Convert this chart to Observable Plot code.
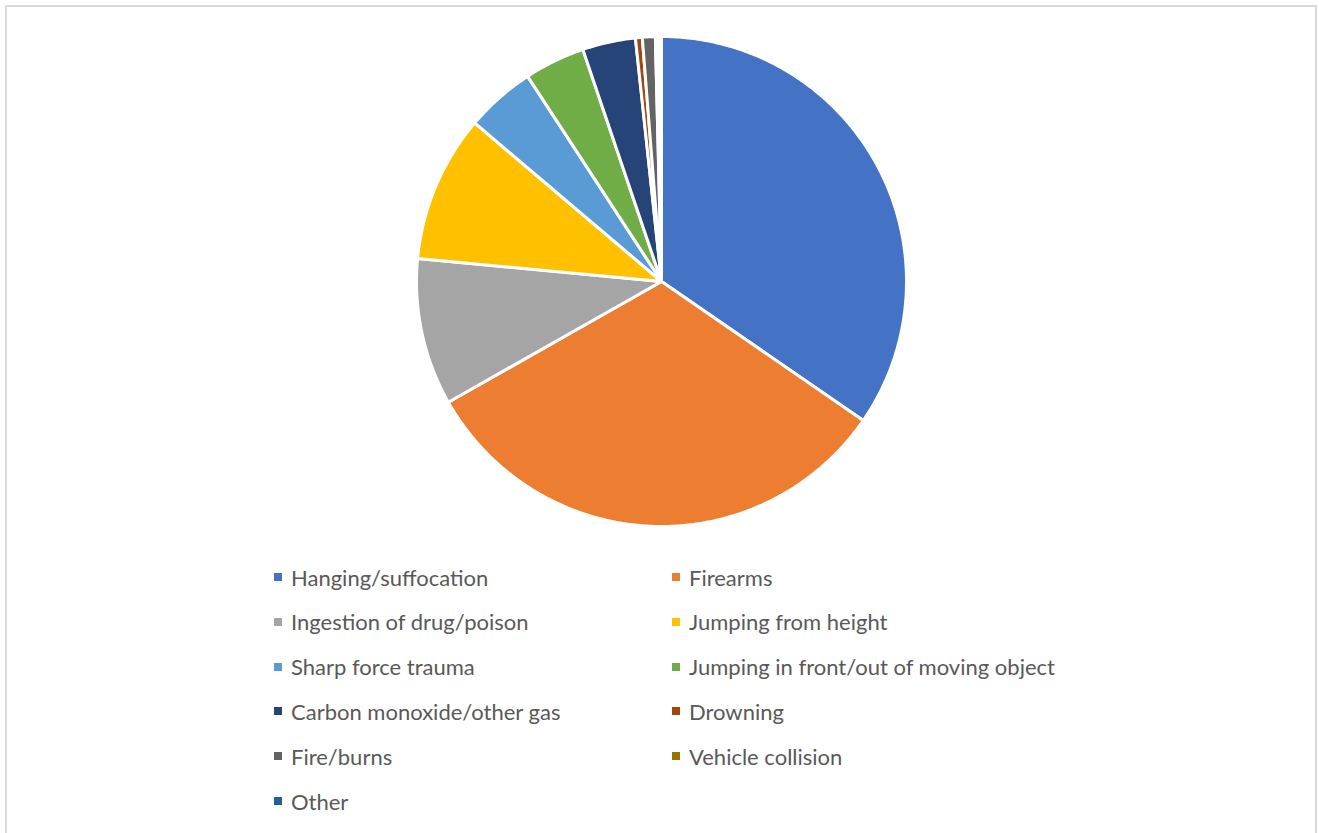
<!DOCTYPE html>
<html><head><meta charset="utf-8">
<script src="https://cdn.jsdelivr.net/npm/d3@7"></script>
<script src="https://cdn.jsdelivr.net/npm/@observablehq/plot@0.6"></script>
<style>
body{margin:0;background:#fff;}
#wrap{position:relative;width:1319px;height:833px;overflow:hidden;font-family:Lato,"Open Sans",sans-serif;}
#border{position:absolute;left:5px;top:5px;width:1312px;height:900px;border:2px solid #d9d9d9;box-sizing:border-box;}
#chart{position:absolute;left:0;top:0;}
.item{position:absolute;height:26px;display:flex;align-items:center;font-size:22px;color:#595959;white-space:nowrap;}
.sw{width:8px;height:8px;margin-right:9px;flex:none;}
</style></head>
<body><div id="wrap"><div id="border"></div><div id="chart"></div></div>
<script>
const categories = ["Hanging/suffocation","Firearms","Ingestion of drug/poison","Jumping from height","Sharp force trauma","Jumping in front/out of moving object","Carbon monoxide/other gas","Drowning","Fire/burns","Vehicle collision","Other"];
const values = [34.6, 32.2, 9.7, 9.7, 4.6, 4.0, 3.5, 0.45, 0.85, 0.2, 0.2];
const colors = ["#4472C4","#ED7D31","#A5A5A5","#FFC000","#5B9BD5","#70AD47","#264478","#9E480E","#636363","#997300","#255E91"];

const arcs = d3.pie().sort(null).value(d => d)(values);
const pts = [];
arcs.forEach((a, i) => {
  const cat = categories[i];
  pts.push({cat, x: 0, y: 0});
  const n = Math.max(2, Math.ceil((a.endAngle - a.startAngle) / 0.01));
  for (let k = 0; k <= n; k++) {
    const t = a.startAngle + (a.endAngle - a.startAngle) * k / n;
    pts.push({cat, x: Math.sin(t), y: Math.cos(t)});
  }
});

const plot = Plot.plot({
  width: 1319, height: 545,
  marginLeft: 416, marginRight: 413, marginTop: 36, marginBottom: 19,
  x: {domain: [-1, 1], axis: null},
  y: {domain: [-1, 1], axis: null},
  color: {domain: categories, range: colors},
  marks: [
    Plot.line(pts, {x: "x", y: "y", z: "cat", fill: "cat", stroke: "white", strokeWidth: 3, strokeLinejoin: "round", curve: "linear-closed"})
  ]
});
document.getElementById("chart").appendChild(plot);

const wrap = document.getElementById("wrap");
categories.forEach((c, i) => {
  const row = Math.floor(i / 2), col = i % 2;
  const d = document.createElement("div");
  d.className = "item";
  d.style.left = (col ? 672 : 274) + "px";
  d.style.top = (578 - 14 + row * 44.8) + "px";
  d.innerHTML = `<span class="sw" style="background:${colors[i]}"></span><span>${c}</span>`;
  wrap.appendChild(d);
});
</script></body></html>
